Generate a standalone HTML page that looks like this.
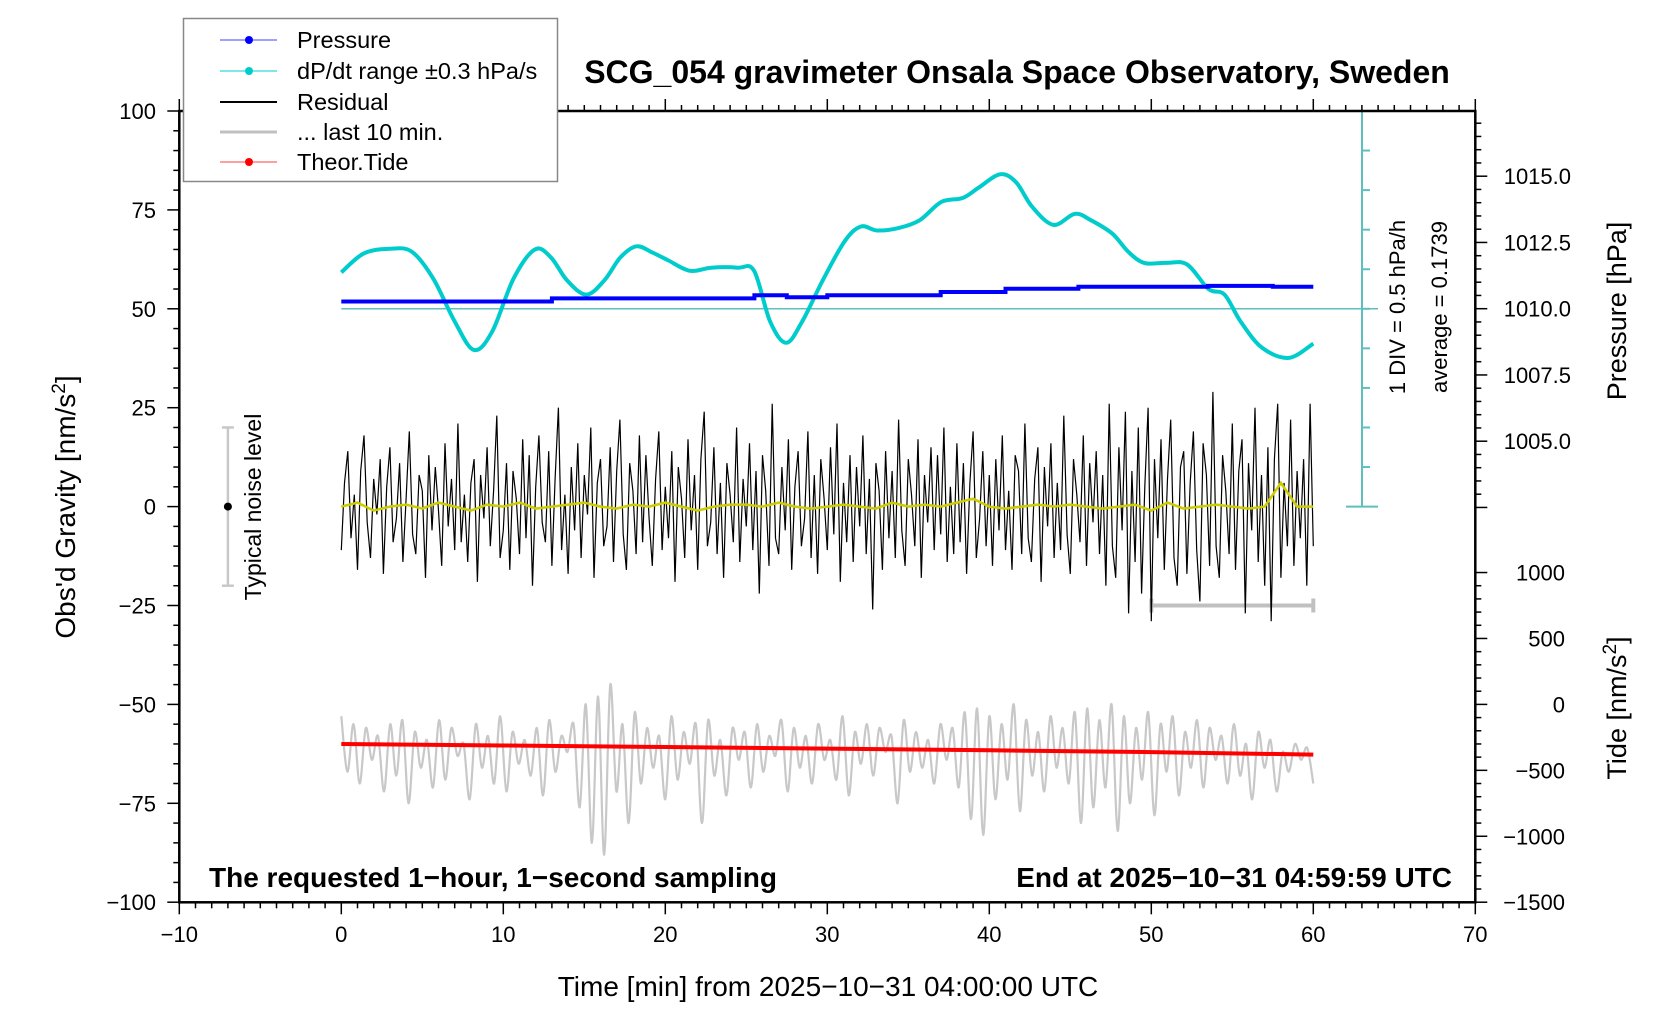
<!DOCTYPE html>
<html><head><meta charset="utf-8"><style>
body{margin:0;background:#fff}
svg{display:block;font-family:"Liberation Sans",Arial,sans-serif}
</style></head><body>
<svg id="chart" width="1676" height="1020" viewBox="0 0 1676 1020" xmlns="http://www.w3.org/2000/svg">
<rect width="1676" height="1020" fill="#fff"/>
<g id="marks"></g>
<g id="axes"></g>
<text x="1017" y="83" text-anchor="middle" font-size="32" font-weight="bold">SCG_054 gravimeter Onsala Space Observatory, Sweden</text>
<text transform="translate(75,507) rotate(-90)" text-anchor="middle" font-size="28">Obs'd Gravity [nm/s<tspan dy="-10" font-size="19">2</tspan><tspan dy="10">]</tspan></text>
<text transform="translate(1626,311) rotate(-90)" text-anchor="middle" font-size="27">Pressure [hPa]</text>
<text transform="translate(1626,708) rotate(-90)" text-anchor="middle" font-size="27">Tide [nm/s<tspan dy="-10" font-size="19">2</tspan><tspan dy="10">]</tspan></text>
<text x="828" y="996" text-anchor="middle" font-size="28">Time [min] from 2025−10−31 04:00:00 UTC</text>
<text x="209" y="887" font-size="28" font-weight="bold">The requested 1−hour, 1−second sampling</text>
<text x="1452" y="887" text-anchor="end" font-size="28" font-weight="bold">End at 2025−10−31 04:59:59 UTC</text>
<text transform="translate(1405,307) rotate(-90)" text-anchor="middle" font-size="22">1 DIV = 0.5 hPa/h</text>
<text transform="translate(1447,307) rotate(-90)" text-anchor="middle" font-size="22">average = 0.1739</text>
<text transform="translate(261,507) rotate(-90)" text-anchor="middle" font-size="23">Typical noise level</text>
<g>
<rect x="183.5" y="18.5" width="374" height="163" fill="#fff" stroke="#888" stroke-width="1.5"/>
<g><line x1="220" y1="40" x2="277" y2="40" stroke="#4040ff" stroke-width="1"/><circle cx="249" cy="40" r="4" fill="#0000ff"/><text x="297" y="48" font-size="23.5">Pressure</text></g>
<g><line x1="220" y1="71" x2="277" y2="71" stroke="#00cccc" stroke-width="1"/><circle cx="249" cy="71" r="4" fill="#00cccc"/><text x="297" y="79" font-size="23.5">dP/dt range ±0.3 hPa/s</text></g>
<g><line x1="220" y1="102" x2="277" y2="102" stroke="#000" stroke-width="2"/><text x="297" y="110" font-size="23.5">Residual</text></g>
<g><line x1="220" y1="132" x2="277" y2="132" stroke="#c0c0c0" stroke-width="3"/><text x="297" y="140" font-size="23.5">... last 10 min.</text></g>
<g><line x1="220" y1="162" x2="277" y2="162" stroke="#ff4040" stroke-width="1"/><circle cx="249" cy="162" r="4" fill="#ff0000"/><text x="297" y="170" font-size="23.5">Theor.Tide</text></g>
</g>
</svg>
<script>
const xTicks=[-10,0,10,20,30,40,50,60,70];
const yTicks=[-100,-75,-50,-25,0,25,50,75,100];
const pressureTicks=[1005.0,1007.5,1010.0,1012.5,1015.0];
const tideTicks=[-1500,-1000,-500,0,500,1000];
const dpdtTimes=[0,1.39,3.04,4.36,5.68,7.0,8.18,9.31,10.63,11.95,12.94,13.93,15.12,16.24,17.23,18.22,19.21,20.2,21.52,22.84,24.49,25.48,26.47,27.46,28.45,29.77,31.09,32.08,33.07,34.39,35.71,37.03,38.35,39.34,40.66,41.65,42.64,43.96,45.28,46.27,47.59,48.58,49.57,50.89,52.21,53.53,54.52,55.51,56.83,58.48,60];
const dpdtValues=[2.96,3.2,3.26,3.22,2.88,2.34,1.98,2.21,2.88,3.25,3.15,2.86,2.68,2.86,3.15,3.29,3.21,3.11,2.98,3.02,3.02,2.98,2.34,2.07,2.34,2.88,3.36,3.54,3.49,3.52,3.62,3.85,3.9,4.03,4.2,4.1,3.79,3.56,3.7,3.62,3.45,3.22,3.08,3.08,3.06,2.75,2.68,2.34,2.01,1.88,2.06];
const pressureTimes=[0,13,13,25.5,25.5,27.5,27.5,30,30,37,37,41,41,45.5,45.5,53.5,53.5,57.5,57.5,60];
const pressureValues=[1010.27,1010.27,1010.39,1010.39,1010.51,1010.51,1010.43,1010.43,1010.51,1010.51,1010.63,1010.63,1010.75,1010.75,1010.83,1010.83,1010.86,1010.86,1010.83,1010.83];
const tideTimes=[0,10,20,30,40,50,60];
const tideValues=[-300,-312,-323,-335,-348,-362,-381];
const residualValues=[-11,6,14,-8,3,-16,9,18,-4,-13,7,-2,12,-17,5,15,-9,-3,11,-14,2,19,-7,-12,8,4,-18,13,-6,10,-1,-15,16,-5,7,-11,21,-9,3,-14,6,12,-19,8,-3,15,-10,4,23,-13,-6,11,-16,9,2,-12,17,-8,13,-20,5,18,-4,-9,14,-15,7,25,-11,3,-17,10,-6,16,-13,8,-2,20,-18,6,12,-10,-5,15,-14,9,22,-7,-16,11,4,-12,18,-9,13,-3,-15,7,19,-11,5,-8,14,-19,10,2,-13,17,-6,8,-16,12,24,-10,-4,15,-12,6,-18,11,3,-9,20,-14,7,-5,16,-11,9,-22,13,4,-15,26,-8,-12,10,-6,17,-16,5,14,-10,-3,19,-13,8,-17,12,2,-11,15,-7,21,-19,6,-9,13,-14,10,-5,18,-12,7,-26,11,4,-16,14,-8,9,-13,22,-6,-15,12,3,-10,17,-18,8,-4,15,-11,13,-7,20,-14,5,-12,16,-9,11,-17,6,19,-13,-3,14,-10,8,-15,12,-6,18,-11,4,-16,13,9,-12,21,-8,-14,7,15,-19,10,-5,16,-13,6,-11,23,-7,-17,12,3,-9,18,-15,11,-4,14,-12,8,-20,26,-10,-18,15,-6,24,-27,9,-14,20,-22,5,25,-29,12,-8,17,-16,7,22,-13,-20,10,14,-17,6,19,-11,-24,16,8,-15,29,-10,-18,13,4,-12,21,-16,9,17,-27,11,-6,25,-14,8,-20,15,-29,12,26,-18,6,-10,22,-15,9,-8,12,-20,26,-10];
const last10Values=[-53,-67,-55,-70,-56,-64,-58,-72,-55,-68,-54,-75,-57,-66,-59,-71,-54,-69,-56,-63,-60,-74,-55,-66,-58,-70,-53,-72,-57,-65,-59,-68,-56,-73,-54,-67,-58,-62,-55,-76,-50,-85,-48,-88,-45,-72,-55,-80,-52,-70,-56,-66,-58,-74,-53,-69,-57,-65,-55,-80,-54,-68,-59,-73,-56,-64,-57,-71,-55,-67,-58,-63,-54,-72,-56,-66,-58,-70,-55,-64,-59,-69,-53,-73,-57,-65,-55,-68,-56,-62,-58,-75,-54,-67,-57,-66,-59,-70,-55,-64,-56,-71,-52,-79,-51,-83,-53,-74,-55,-69,-50,-77,-54,-68,-57,-72,-53,-66,-56,-70,-52,-80,-51,-76,-54,-71,-50,-82,-53,-75,-56,-69,-52,-78,-55,-67,-53,-73,-57,-66,-54,-71,-56,-64,-58,-70,-55,-68,-60,-74,-57,-66,-59,-72,-62,-67,-60,-64,-61,-70];
const smoothValues=[0,1,-1,0,0.5,-0.5,1,0,-1,0.5,0,1,-0.5,0,0.5,1,0,-0.5,0.5,0,1,0,-1,0,0.5,0.5,0,1,0,-0.5,0,0.5,0,-0.5,1,0,0.5,0,1,2,0,-0.5,0,0.5,0,0.5,0,-0.5,0,0.5,-1,1,-0.5,0,0.5,0,-0.5,0,6,0,0];

const L=179.3,R=1475.3,T=111,B=902.3;
const X=t=>341.3+t*16.2;
const Y=g=>506.6-g*3.956;
const YP=p=>308.7-(p-1010)*26.5;
const YT=v=>Y(-50+v/30);
const YD=d=>Y(d*20);
const NS='http://www.w3.org/2000/svg';
const marks=document.getElementById('marks'),axes=document.getElementById('axes');
function mk(tag,attrs,parent){const e=document.createElementNS(NS,tag);for(const k in attrs)e.setAttribute(k,attrs[k]);parent.appendChild(e);return e;}
function pts(xs,ys,fy){return xs.map((t,i)=>X(t).toFixed(1)+','+fy(ys[i]).toFixed(1)).join(' ');}
function smooth(xs,ys,fy){const P=xs.map((t,i)=>[X(t),fy(ys[i])]);let d='M'+P[0][0].toFixed(1)+','+P[0][1].toFixed(1);
 for(let i=0;i<P.length-1;i++){const p0=P[Math.max(0,i-1)],p1=P[i],p2=P[i+1],p3=P[Math.min(P.length-1,i+2)];
 const c1=[p1[0]+(p2[0]-p0[0])/6,p1[1]+(p2[1]-p0[1])/6],c2=[p2[0]-(p3[0]-p1[0])/6,p2[1]-(p3[1]-p1[1])/6];
 d+=' C'+c1[0].toFixed(1)+','+c1[1].toFixed(1)+' '+c2[0].toFixed(1)+','+c2[1].toFixed(1)+' '+p2[0].toFixed(1)+','+p2[1].toFixed(1);}return d;}
function idxTimes(arr){return arr.map((_,i)=>i*60/(arr.length-1));}

let sc=mk('g',{stroke:'#5fbfbf','stroke-width':2},marks);


mk('line',{x1:1362,y1:T,x2:1362,y2:Y(0)},sc);
mk('line',{x1:1346,y1:T,x2:1378,y2:T},sc);
mk('line',{x1:1346,y1:Y(0),x2:1378,y2:Y(0)},sc);
for(let i=1;i<10;i++){mk('line',{x1:1362,y1:T+i*39.56,x2:1370,y2:T+i*39.56},sc);}
let avg=mk('line',{x1:X(0),y1:Y(50),x2:1378,y2:Y(50),stroke:'#5fbfbf','stroke-width':1.5},marks);



let gl=mk('path',{d:smooth(idxTimes(last10Values),last10Values,Y),fill:'none',stroke:'#c8c8c8','stroke-width':2.2},marks);


let gb=mk('g',{stroke:'#c0c0c0','stroke-width':4},marks);


mk('line',{x1:X(50),y1:Y(-25),x2:X(60),y2:Y(-25)},gb);
mk('line',{x1:X(50),y1:Y(-25)-7,x2:X(50),y2:Y(-25)+7},gb);
mk('line',{x1:X(60),y1:Y(-25)-7,x2:X(60),y2:Y(-25)+7},gb);

let rl=mk('polyline',{points:pts(idxTimes(residualValues),residualValues,Y),fill:'none',stroke:'#000','stroke-width':1.2},marks);


let yl=mk('polyline',{points:pts(idxTimes(smoothValues),smoothValues,Y),fill:'none',stroke:'#cccc00','stroke-width':2.5},marks);



let cl=mk('path',{d:smooth(dpdtTimes,dpdtValues,YD),fill:'none',stroke:'#00cccc','stroke-width':4,'stroke-linejoin':'round'},marks);


let pl=mk('polyline',{points:pts(pressureTimes,pressureValues,YP),fill:'none',stroke:'#0000ff','stroke-width':4},marks);


let tl=mk('polyline',{points:pts(tideTimes,tideValues,YT),fill:'none',stroke:'#ff0000','stroke-width':4},marks);



let nz=mk('g',{},marks);


mk('line',{x1:X(-7),y1:Y(20),x2:X(-7),y2:Y(-20),stroke:'#c8c8c8','stroke-width':2.5},nz);
mk('line',{x1:X(-7)-6,y1:Y(20),x2:X(-7)+6,y2:Y(20),stroke:'#c8c8c8','stroke-width':2.5},nz);
mk('line',{x1:X(-7)-6,y1:Y(-20),x2:X(-7)+6,y2:Y(-20),stroke:'#c8c8c8','stroke-width':2.5},nz);
mk('circle',{cx:X(-7),cy:Y(0),r:4,fill:'#000'},nz);

let fr=mk('rect',{x:L,y:T,width:R-L,height:B-T,fill:'none',stroke:'#000','stroke-width':2.5},axes);


let tk=mk('g',{stroke:'#000','stroke-width':1.5},axes);


for(let t=-10;t<=70;t++){const len=(t%10===0)?12:6;const x=X(t);
 mk('line',{x1:x,y1:B,x2:x,y2:B+len},tk);mk('line',{x1:x,y1:T,x2:x,y2:T-len},tk);}
for(let g=-100;g<=100;g+=5){const len=(g%25===0)?12:6;mk('line',{x1:L,y1:Y(g),x2:L-len,y2:Y(g)},tk);}
for(let p=1002.5;p<=1017;p+=0.5){const len=(Math.abs((p-1005)%2.5)<1e-6)?12:6;mk('line',{x1:R,y1:YP(p),x2:R+len,y2:YP(p)},tk);}
for(let v=-1500;v<=1000;v+=100){const len=(v%500===0)?12:6;mk('line',{x1:R,y1:YT(v),x2:R+len,y2:YT(v)},tk);}

xTicks.forEach(t=>{const e=mk('text',{x:X(t),y:942,'text-anchor':'middle','font-size':22},axes);e.textContent=t<0?'−'+(-t):t;

});
yTicks.forEach(g=>{const e=mk('text',{x:156,y:Y(g)+8,'text-anchor':'end','font-size':22},axes);e.textContent=g<0?'−'+(-g):g;

});
pressureTicks.forEach(p=>{const e=mk('text',{x:1571,y:YP(p)+8,'text-anchor':'end','font-size':22},axes);e.textContent=p.toFixed(1);

});
tideTicks.forEach(v=>{const e=mk('text',{x:1565,y:YT(v)+8,'text-anchor':'end','font-size':22},axes);e.textContent=v<0?'−'+(-v):v;

});
</script>
</body></html>
